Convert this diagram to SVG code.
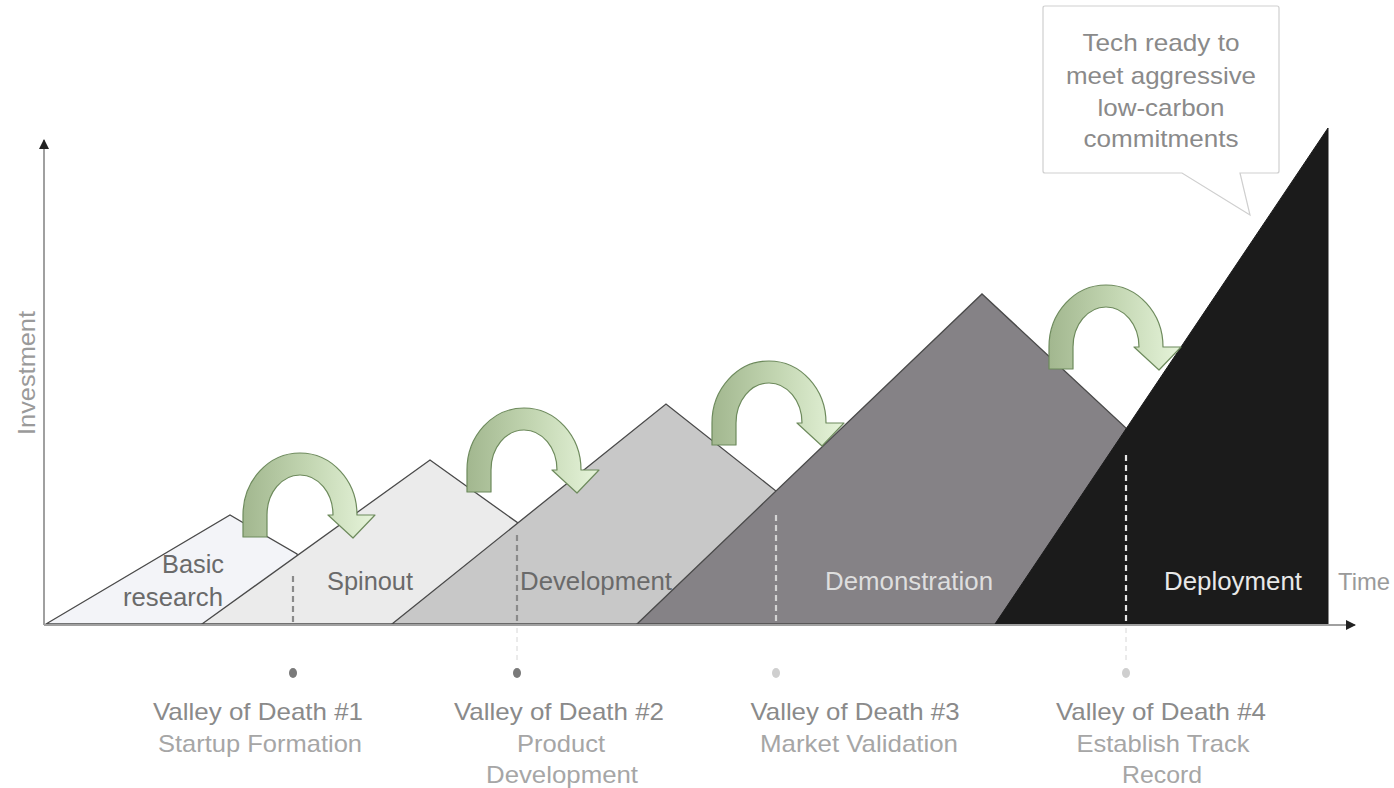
<svg xmlns="http://www.w3.org/2000/svg" xmlns:xlink="http://www.w3.org/1999/xlink" width="1394" height="788" viewBox="0 0 1394 788">
<style>
  text { font-family: "Liberation Sans", Arial, sans-serif; }
  .phase { font-size: 25px; text-anchor: middle; }
  .dark { fill: #6a6a6a; }
  .valley { font-size: 24px; text-anchor: middle; fill: #8a8a8a; }
  .valley2 { font-size: 24px; text-anchor: middle; fill: #a6a6a6; }
  .callout { font-size: 24px; text-anchor: middle; fill: #8a8a8a; }
  .axislbl { font-size: 24px; fill: #9a9a9a; }
  .shape { stroke: #4a4a4a; stroke-width: 1.3; stroke-linejoin: miter; }
  .axis { stroke: #a0a0a0; stroke-width: 2; fill: none; }
  .dash { stroke-width: 2.2; stroke-dasharray: 6 4; fill: none; }
  .faint { stroke: #d6d6d6; stroke-width: 1; stroke-dasharray: 5 4; fill: none; }
  .jump { fill: url(#greenGrad); stroke: #6d8a5c; stroke-width: 1.2; stroke-linejoin: round; }
</style>
<defs>
  <linearGradient id="greenGrad" x1="0" y1="0" x2="1" y2="0">
    <stop offset="0" stop-color="#a2b78f"/>
    <stop offset="0.5" stop-color="#c3d6b2"/>
    <stop offset="1" stop-color="#e6f4da"/>
  </linearGradient>
  <marker id="ahBig" viewBox="0 0 10 10" refX="9" refY="5" markerWidth="12" markerHeight="10" orient="auto" markerUnits="userSpaceOnUse">
    <path d="M0,0 L10,5 L0,10 Z" fill="#222"/>
  </marker>
  <path id="jumpArrow" d="M -57,22 L -57,0 A 57,62 0 0 1 57,0 L 75,0 L 53,23 L 28,0 L 33,0 A 33,40 0 0 0 -33,0 L -33,22 Z"/>
</defs>
<rect width="1394" height="788" fill="#ffffff"/>

<!-- phase shapes -->
<g id="basic-research">
  <polygon class="shape" fill="#f3f4f8" points="46,624 230,515 297,554 320,624"/>
</g>
<g id="spinout">
  <polygon class="shape" fill="#ebebeb" points="202,624 430,460 518,523 540,624"/>
</g>
<g id="development">
  <polygon class="shape" fill="#c8c8c8" points="392,624 666,404 776,491 800,624"/>
</g>
<g id="demonstration">
  <polygon class="shape" fill="#858286" points="637,624 982,294 1126,428 1150,624"/>
</g>
<g id="deployment">
  <polygon fill="#1b1b1b" stroke="#1b1b1b" stroke-width="1" points="995,624 1328,128 1328,624"/>
</g>

<!-- axes -->
<g id="axes">
  <line class="axis" x1="44" y1="625" x2="44" y2="140" marker-end="url(#ahBig)"/>
  <line class="axis" x1="44" y1="625" x2="1355" y2="625" marker-end="url(#ahBig)"/>
</g>

<!-- valley markers and jump arrows -->
<g id="connectors">
  <line class="dash" stroke="#8a8a8a" x1="293" y1="576" x2="293" y2="624"/>
  <line class="dash" stroke="#8a8a8a" x1="517" y1="535" x2="517" y2="624"/>
  <line class="faint" x1="517" y1="628" x2="517" y2="664"/>
  <line class="dash" stroke="#d4d4d4" x1="776" y1="515" x2="776" y2="624"/>
  <line class="dash" stroke="#e6e6e6" x1="1126" y1="455" x2="1126" y2="624"/>
  <line class="faint" x1="1126" y1="628" x2="1126" y2="664"/>
  <use xlink:href="#jumpArrow" href="#jumpArrow" class="jump" transform="translate(300,515)"/>
  <use xlink:href="#jumpArrow" href="#jumpArrow" class="jump" transform="translate(524,470)"/>
  <use xlink:href="#jumpArrow" href="#jumpArrow" class="jump" transform="translate(769,423)"/>
  <use xlink:href="#jumpArrow" href="#jumpArrow" class="jump" transform="translate(1106,347)"/>
</g>

<g id="dots">
  <ellipse cx="293" cy="673" rx="4" ry="5" fill="#7a7a7a"/>
  <ellipse cx="517" cy="673" rx="4" ry="5" fill="#7a7a7a"/>
  <ellipse cx="776" cy="673" rx="4" ry="5" fill="#cfcfcf"/>
  <ellipse cx="1126" cy="673" rx="4" ry="5" fill="#cfcfcf"/>
</g>

<!-- phase labels -->
<g id="phase-labels">
  <text class="phase dark" x="193" y="573" textLength="62" lengthAdjust="spacingAndGlyphs">Basic</text>
  <text class="phase dark" x="173" y="606" textLength="100" lengthAdjust="spacingAndGlyphs">research</text>
  <text class="phase dark" x="370" y="590" textLength="86" lengthAdjust="spacingAndGlyphs">Spinout</text>
  <text class="phase dark" x="596" y="590" textLength="152" lengthAdjust="spacingAndGlyphs">Development</text>
  <text class="phase" fill="#dedede" x="909" y="590" textLength="168" lengthAdjust="spacingAndGlyphs">Demonstration</text>
  <text class="phase" fill="#e8e8e8" x="1233" y="590" textLength="138" lengthAdjust="spacingAndGlyphs">Deployment</text>
  <text class="axislbl" x="1338" y="590" textLength="52" lengthAdjust="spacingAndGlyphs">Time</text>
  <text class="axislbl" transform="translate(35,373) rotate(-90)" text-anchor="middle" textLength="124" lengthAdjust="spacingAndGlyphs">Investment</text>
</g>

<!-- valley labels -->
<g id="valley-1">
  <text class="valley" x="258" y="720" textLength="210" lengthAdjust="spacingAndGlyphs">Valley of Death #1</text>
  <text class="valley2" x="260" y="752" textLength="204" lengthAdjust="spacingAndGlyphs">Startup Formation</text>
</g>
<g id="valley-2">
  <text class="valley" x="559" y="720" textLength="210" lengthAdjust="spacingAndGlyphs">Valley of Death #2</text>
  <text class="valley2" x="561" y="752" textLength="88" lengthAdjust="spacingAndGlyphs">Product</text>
  <text class="valley2" x="562" y="783" textLength="152" lengthAdjust="spacingAndGlyphs">Development</text>
</g>
<g id="valley-3">
  <text class="valley" x="855" y="720" textLength="209" lengthAdjust="spacingAndGlyphs">Valley of Death #3</text>
  <text class="valley2" x="859" y="752" textLength="198" lengthAdjust="spacingAndGlyphs">Market Validation</text>
</g>
<g id="valley-4">
  <text class="valley" x="1161" y="720" textLength="210" lengthAdjust="spacingAndGlyphs">Valley of Death #4</text>
  <text class="valley2" x="1163" y="752" textLength="173" lengthAdjust="spacingAndGlyphs">Establish Track</text>
  <text class="valley2" x="1162" y="783" textLength="80" lengthAdjust="spacingAndGlyphs">Record</text>
</g>

<!-- callout -->
<g id="callout">
  <path d="M1045,6 H1277 Q1279,6 1279,8 V171 Q1279,173 1277,173 H1240 L1250,215 L1182,173 H1045 Q1043,173 1043,171 V8 Q1043,6 1045,6 Z" fill="#ffffff" stroke="#cfcfcf" stroke-width="1.2"/>
  <text class="callout" x="1161" y="51" textLength="157" lengthAdjust="spacingAndGlyphs">Tech ready to</text>
  <text class="callout" x="1161" y="84" textLength="190" lengthAdjust="spacingAndGlyphs">meet aggressive</text>
  <text class="callout" x="1161" y="116" textLength="127" lengthAdjust="spacingAndGlyphs">low-carbon</text>
  <text class="callout" x="1161" y="147" textLength="155" lengthAdjust="spacingAndGlyphs">commitments</text>
</g>
</svg>
